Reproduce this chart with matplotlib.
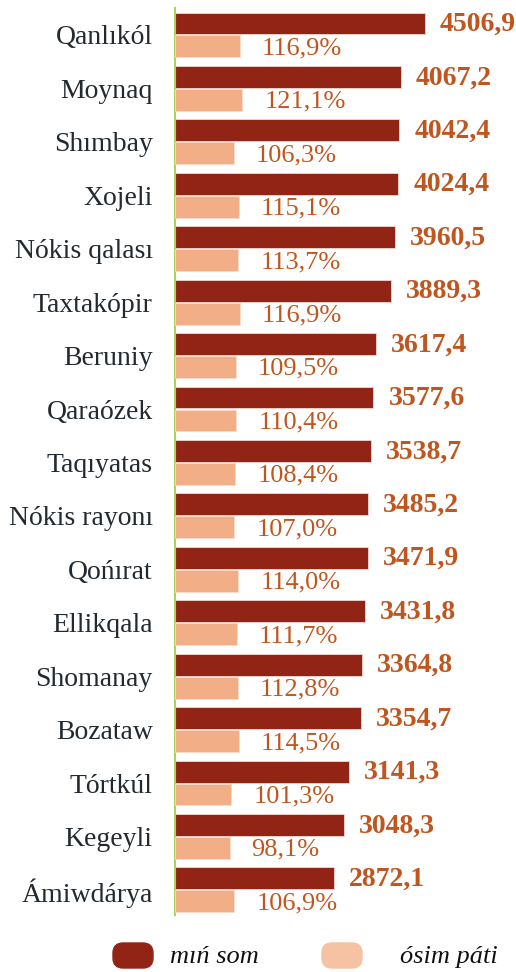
import matplotlib
matplotlib.use("Agg")
import matplotlib.pyplot as plt
from matplotlib.patches import FancyBboxPatch

plt.rcParams['font.family'] = ['Liberation Serif', 'DejaVu Serif']

### data
districts = ["Qanlıkól", "Moynaq", "Shımbay", "Xojeli", "Nókis qalası", "Taxtakópir",
             "Beruniy", "Qaraózek", "Taqıyatas", "Nókis rayonı", "Qońırat", "Ellikqala",
             "Shomanay", "Bozataw", "Tórtkúl", "Kegeyli", "Ámiwdárya"]
min_som = [4506.9, 4067.2, 4042.4, 4024.4, 3960.5, 3889.3, 3617.4, 3577.6, 3538.7,
           3485.2, 3471.9, 3431.8, 3364.8, 3354.7, 3141.3, 3048.3, 2872.1]
osim_pati = [116.9, 121.1, 106.3, 115.1, 113.7, 116.9, 109.5, 110.4, 108.4,
             107.0, 114.0, 111.7, 112.8, 114.5, 101.3, 98.1, 106.9]

dark = '#922416'
light = '#f2ae86'
lab_col = '#c0561f'

fig = plt.figure(figsize=(5.16, 9.72), dpi=100)
ax = fig.add_axes([0.339, 0.0586, 0.661, 0.9332])
ax2 = ax.twiny()

pos = list(range(len(districts)))
ax.barh([p - 0.215 for p in pos], min_som, height=0.41, color=dark,
        edgecolor='#f0d8d0', linewidth=0.6)
ax2.barh([p + 0.215 for p in pos], osim_pati, height=0.41, color=light,
         edgecolor='#f8dccb', linewidth=0.6)

ax.set_xlim(0, 6147)
ax2.set_xlim(0, 613)
ax.set_ylim(16.47, -0.505)

for p, v in zip(pos, min_som):
    ax.annotate(f"{v:.1f}".replace('.', ','), (v, p - 0.2), xytext=(15, 0),
                textcoords='offset pixels', va='center', ha='left',
                fontsize=20, fontweight='bold', color=lab_col)
for p, v in zip(pos, osim_pati):
    ax2.annotate(f"{v:.1f}%".replace('.', ','), (v, p + 0.25), xytext=(22, 0),
                 textcoords='offset pixels', va='center', ha='left',
                 fontsize=19, color=lab_col)

ax.set_yticks(pos)
ax.set_yticklabels(districts, fontsize=20, color='#222a30')
ax.tick_params(axis='y', length=0, pad=16)
ax.set_xticks([])
ax2.set_xticks([])
for a in (ax, ax2):
    for s in ('top', 'right', 'bottom'):
        a.spines[s].set_visible(False)
ax2.spines['left'].set_visible(False)
ax.spines['left'].set_color('#a8d45a')
ax.spines['left'].set_linewidth(1.5)

# legend, drawn in a pixel-scaled overlay
lg = fig.add_axes([0, 0, 1, 1], zorder=-1)
lg.set_xlim(0, 516)
lg.set_ylim(972, 0)
lg.axis('off')
for x0, col in ((113, dark), (322, '#f5c2a3')):
    lg.add_patch(FancyBboxPatch((x0, 943), 40, 25,
                                boxstyle='round,pad=0,rounding_size=10',
                                color=col))
lg.text(170, 957, "mıń som", fontsize=19, style='italic',
        va='center', ha='left', color='#111111')
lg.text(400, 957, "ósim páti", fontsize=19, style='italic',
        va='center', ha='left', color='#111111')

fig.savefig("out.png", dpi=100)
